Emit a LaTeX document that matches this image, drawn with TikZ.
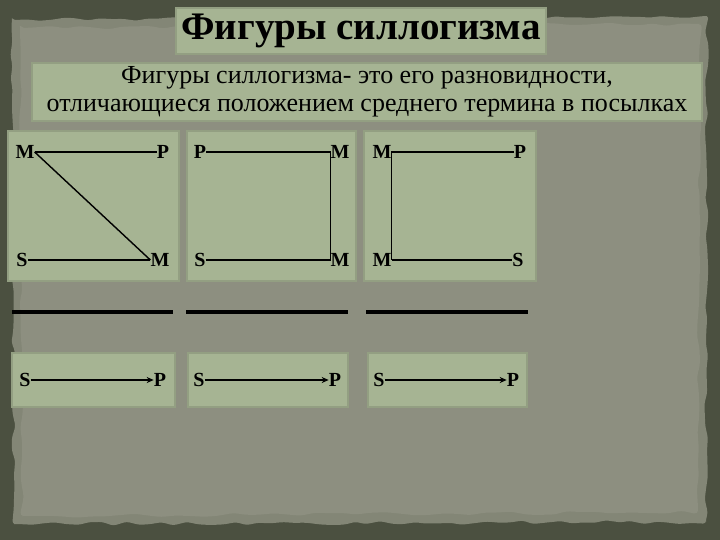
\documentclass[tikz,border=0pt]{standalone}
\usepackage{fontspec}
\setmainfont{Liberation Serif}
\usetikzlibrary{arrows.meta,decorations.pathmorphing}

\definecolor{frameclr}{HTML}{4B5040}
\definecolor{paperclr}{HTML}{8D8F80}
\definecolor{boxclr}{HTML}{A6B493}
\definecolor{boxedge}{HTML}{939F82}

\tikzset{
  panel/.style={fill=boxclr, draw=boxedge, line width=1.5pt},
  term/.style={font=\bfseries\fontsize{20}{20}\selectfont, inner sep=0pt},
  link/.style={line width=1.4pt},
  bar/.style={line width=4.5pt},
}

\begin{document}
\begin{tikzpicture}[x=1pt,y=-1pt]
\useasboundingbox (0,0) rectangle (720,540);
% background
\fill[frameclr] (0,0) rectangle (720,540);
\pgfmathsetseed{7}
\fill[paperclr!85!frameclr, decorate, decoration={random steps, segment length=12pt, amplitude=2pt}, rounded corners=3pt]
  (12,20) -- (707,16) -- (706,522) -- (14,524) -- cycle;
\fill[paperclr, decorate, decoration={random steps, segment length=14pt, amplitude=2pt}, rounded corners=4pt]
  (20,28) -- (700,24) -- (698,512) -- (22,516) -- cycle;

% headings
\node[panel, minimum width=370pt, minimum height=46pt, inner sep=0pt,
  font=\bfseries\fontsize{39}{39}\selectfont] (title) at (361,31) {Фигуры силлогизма};
\node[panel, minimum width=670pt, minimum height=58pt, inner sep=0pt, align=center,
  font=\fontsize{26}{28}\selectfont] (subtitle) at (367,92)
  {Фигуры силлогизма- это его разновидности,\\ отличающиеся положением среднего термина в посылках};

% upper panels
\draw[panel] (8,131) rectangle (179,281);
\draw[panel] (187,131) rectangle (356,281);
\draw[panel] (364,131) rectangle (536,281);

% first figure
\node[term] (m1) at (25,152) {M};
\node[term] (p1) at (163,152) {P};
\node[term] (s1) at (22,260) {S};
\node[term] (mm1) at (160,260) {M};
\draw[link] (m1.east) -- (p1.west);
\draw[link] (m1.east) -- (mm1.west);
\draw[link] (s1.east) -- (mm1.west);

% second figure
\node[term] (p2) at (200,152) {P};
\node[term] (m2) at (340,152) {M};
\node[term] (s2) at (200,260) {S};
\node[term] (mm2) at (340,260) {M};
\draw[link] (p2.east) -- (m2.west) -- (mm2.west) -- (s2.east);

% third figure
\node[term] (m3) at (382,152) {M};
\node[term] (p3) at (520,152) {P};
\node[term] (mm3) at (382,260) {M};
\draw[link] (p3.west) -- (m3.east) -- (mm3.east);
\node[term] (s3) at (518,260) {S};
\draw[link] (mm3.east) -- (s3.west);

% bars
\draw[bar] (12,312) -- (173,312);
\draw[bar] (186,312) -- (348,312);
\draw[bar] (366,312) -- (528,312);

% conclusions
\draw[panel] (12,353) rectangle (175,407);
\draw[panel] (188,353) rectangle (348,407);
\draw[panel] (368,353) rectangle (527,407);
\node[term] (s4) at (25,380) {S};
\node[term] (p4) at (160,380) {P};
\draw[link, -{Stealth[length=7pt, width=6pt]}] (s4.east) -- (p4.west);
\node[term] (s5) at (199,380) {S};
\node[term] (p5) at (335,380) {P};
\draw[link, -{Stealth[length=7pt, width=6pt]}] (s5.east) -- (p5.west);
\node[term] (s6) at (379,380) {S};
\node[term] (p6) at (513,380) {P};
\draw[link, -{Stealth[length=7pt, width=6pt]}] (s6.east) -- (p6.west);
\end{tikzpicture}
\end{document}
